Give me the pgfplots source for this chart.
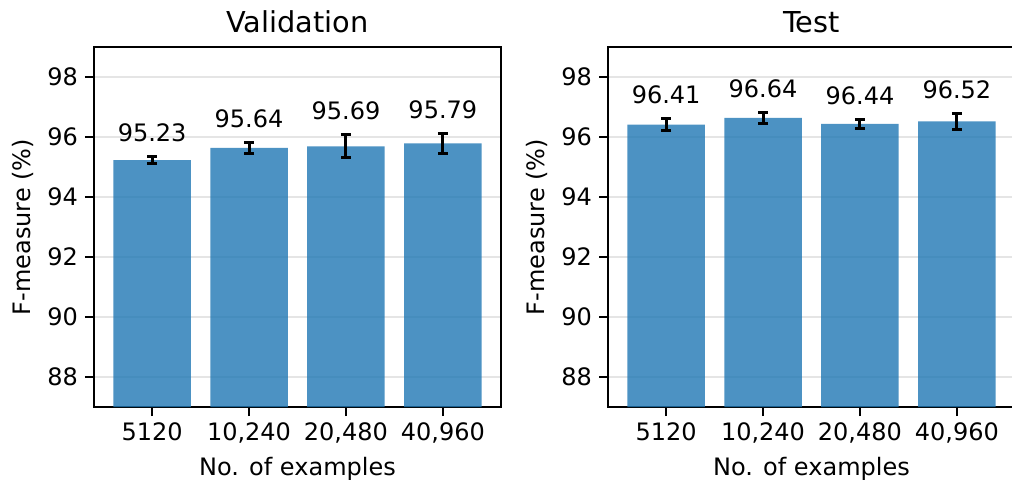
\documentclass[border=0pt]{standalone}
\usepackage{fontspec}
\setmainfont{DejaVu Sans}
\usepackage{pgfplots}
\usepackage{pgfplotstable}
\pgfplotsset{compat=1.18}
\definecolor{barblue}{HTML}{1F77B4}
\definecolor{gridgray}{HTML}{E5E5E5}

\pgfplotstableread{
x y e lab
0 95.23 0.12 95.23
1 95.64 0.19 95.64
2 95.69 0.38 95.69
3 95.79 0.33 95.79
}\valdata
\pgfplotstableread{
x y e lab
0 96.41 0.20 96.41
1 96.64 0.19 96.64
2 96.44 0.15 96.44
3 96.52 0.27 96.52
}\testdata

\pgfplotsset{myaxis/.style={
 scale only axis, width=203.5pt, height=180pt,
 xmin=-0.6, xmax=3.6, ymin=87, ymax=99,
 xtick={0,1,2,3}, xticklabels={5120,{10,240},{20,480},{40,960}},
 ytick={88,90,...,98},
 ymajorgrids, grid style={gridgray, line width=0.8pt},
 axis line style={line width=1pt},
 tick style={black, line width=1pt},
 major tick length=4.5pt,
 tick align=outside, xtick pos=bottom, ytick pos=left,
 tick label style={font=\fontsize{12}{14}\selectfont},
 label style={font=\fontsize{12}{14}\selectfont},
 title style={font=\fontsize{14.4}{17}\selectfont, yshift=-2.5pt},
 /pgf/number format/assume math mode=true,
 xlabel={No. of examples}, ylabel={F-measure (\%)},
},
barplot/.style={ybar, bar width=0.8, bar shift=0pt, draw=none, fill=barblue, fill opacity=0.8,
 error bars/.cd, y dir=both, y explicit, error mark=|,
 error bar style={draw=black, line width=1.5pt, opacity=1},
 error mark options={draw=black, line width=1.5pt, mark size=2.5pt, opacity=1}},
labplot/.style={draw=none, mark=none, nodes near coords, point meta=explicit symbolic,
 every node near coord/.append style={anchor=base, yshift=0pt, font=\fontsize{12}{14}\selectfont, black}}
}

\begin{document}
\begin{tikzpicture}
\useasboundingbox (-47pt,-37.5pt) rectangle (459pt,203.5pt);
\begin{axis}[myaxis, at={(0pt,0pt)}, anchor=south west, title={Validation}]
\addplot[barplot] table[x=x, y=y, y error=e] {\valdata};
\addplot[labplot] table[x=x, y expr=\thisrow{y}+\thisrow{e}+0.5, meta=lab] {\valdata};
\end{axis}
\begin{axis}[myaxis, at={(257pt,0pt)}, anchor=south west, title={Test}]
\addplot[barplot] table[x=x, y=y, y error=e] {\testdata};
\addplot[labplot] table[x=x, y expr=\thisrow{y}+\thisrow{e}+0.5, meta=lab] {\testdata};
\end{axis}
\end{tikzpicture}
\end{document}
